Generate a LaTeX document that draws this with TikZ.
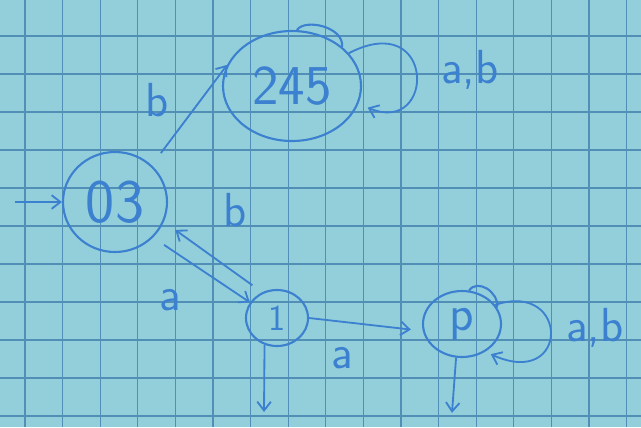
\documentclass[tikz,border=0pt]{standalone}
\usetikzlibrary{arrows.meta,shapes.geometric,positioning}
\definecolor{paper}{HTML}{93CFDA}
\definecolor{gridline}{HTML}{528FB6}
\definecolor{ink}{HTML}{3C80D0}
\newcommand{\hand}[1]{\sffamily\fontsize{#1}{#1}\selectfont}
\tikzset{
 every node/.append style={text=ink,font=\hand{34}},
 state/.style={ellipse,draw=ink,line width=1.5pt,inner sep=0pt},
 sym/.style={inner sep=1pt},
 flow/.style={-{Straight Barb[length=2.2mm,width=3.4mm]},draw=ink,line width=1.3pt},
 bump/.style={draw=ink,line width=1.5pt},
}

\begin{document}
\begin{tikzpicture}

% squared paper
\fill[paper] (0,0) rectangle (16.025,-10.675);
\useasboundingbox (0,0) rectangle (16.025,-10.675);
\foreach \x in {0,...,16}
  \draw[gridline,line width=.8pt] ({0.625+0.94*\x},0) -- ++(0,-10.675);
\foreach \y in {0,...,10}
  \draw[gridline,line width=.8pt] (0,{-0.9-0.95*\y}) -- ++(16.025,0);

% states
\node[state,minimum width=2.6cm,minimum height=2.5cm,font=\hand{44}] (s03) at (2.875,-5.05) {03};
\node[state,minimum width=3.45cm,minimum height=2.75cm,font=\hand{40}] (s245) at (7.3,-2.15) {245};
\node[state,minimum width=1.55cm,minimum height=1.4cm,font=\hand{26}] (s1) at (6.925,-7.95) {1};
\node[state,minimum width=1.95cm,minimum height=1.65cm,font=\hand{36}] (sp) at (11.55,-8.1) {p};
\draw[bump] (s245.85) .. controls +(0.2,0.3) and +(0.05,0.5) .. (s245.38);
\draw[bump] (sp.78) .. controls +(0.2,0.3) and +(0.05,0.4) .. (sp.25);

\coordinate (in03) at (0.375,-5.05);
\coordinate (out1) at (6.6,-10.3);
\coordinate (outp) at (11.3,-10.32);

% transitions
\draw[flow] (in03) -- (s03);
\draw[flow,shorten <=3.8mm] (s03.45) -- (s245.162);
\draw[flow,shorten <=3.3mm] (s03.-43) -- (s1.150);
\draw[flow,shorten <=3mm,shorten >=3.5mm] (s1.120) -- (s03.-22);
\draw[flow,shorten >=3mm] (s1.east) -- (sp.190);
\draw[flow] (s1.-115) -- (out1);
\draw[flow] (sp.-100) -- (outp);
\draw[flow,shorten >=2.5mm] (s245.30) .. controls (10.9,-0.2) and (10.9,-3.4) .. (s245.-15);
\draw[flow,shorten >=1.5mm] (sp.30) .. controls (14.25,-7.0) and (14.25,-9.75) .. (sp.-50);

% labels
\node[sym] (lb1) at (3.925,-2.5) {b};
\node[sym] (lb2) at (5.875,-5.25) {b};
\node[sym] (la1) at (4.25,-7.5) {a};
\node[sym] (la2) at (8.55,-8.95) {a};
\node[sym] (lab1) at (11.75,-1.75) {a,b};
\node[sym] (lab2) at (14.875,-8.2) {a,b};

\end{tikzpicture}
\end{document}
